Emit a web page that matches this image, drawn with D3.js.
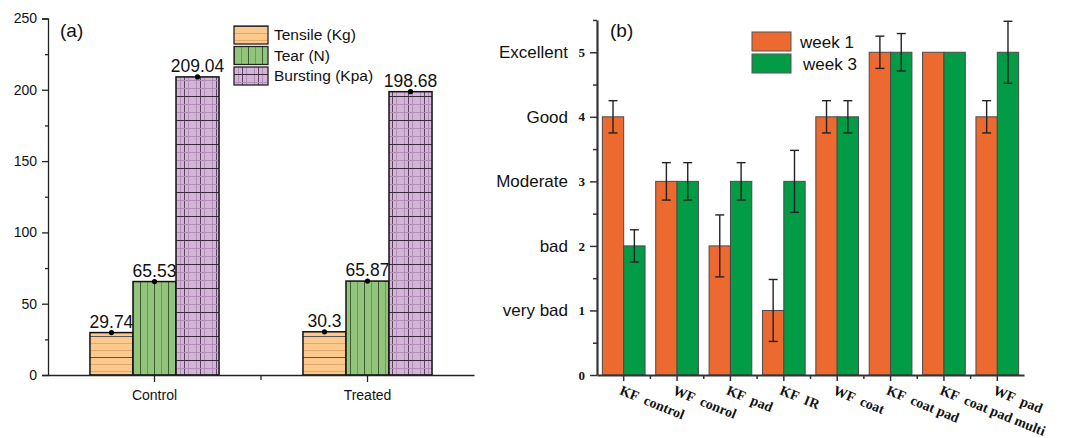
<!DOCTYPE html>
<html lang="en">
<head>
  <meta charset="UTF-8" />
  <title>Fabric tests and rating</title>
  <style>
    body { margin: 0; background: #fff; }
    svg { display: block; }
    text { font-family: "Liberation Sans", Arial, sans-serif; fill: #111; }
    .serif { font-family: "Liberation Serif", "Times New Roman", serif; font-weight: bold; }
  </style>
</head>
<body>
  <svg width="1073" height="438"></svg>
  <script src="https://d3js.org/d3.v7.min.js"></script>
  <script>
    // panel (a) data
    const groupsA = ['Control', 'Treated'];
    const seriesA = ['Tensile (Kg)', 'Tear (N)', 'Bursting (Kpa)'];
    const tensile = [29.74, 30.3];
    const tear = [65.53, 65.87];
    const bursting = [209.04, 198.68];
    const ticksA = [0, 50, 100, 150, 200, 250];

    // panel (b) data
    const groupsB = ['KF  control', 'WF  conrol', 'KF  pad', 'KF  IR', 'WF  coat', 'KF  coat pad', 'KF  coat pad multi', 'WF  pad'];
    const week1 = [4, 3, 2, 1, 4, 5, 5, 4];
    const week1Err = [0.25, 0.29, 0.48, 0.48, 0.25, 0.25, 0, 0.25];
    const week3 = [2, 3, 3, 3, 4, 5, 5, 5];
    const week3Err = [0.25, 0.29, 0.29, 0.48, 0.25, 0.29, 0, 0.48];
    const ratingNames = ['very bad', 'bad', 'Moderate', 'Good', 'Excellent'];
    const ratingVals = [1, 2, 3, 4, 5];

    const svg = d3.select('svg');
    svg.append('rect').attr('width', 1073).attr('height', 438).attr('fill', '#fff');
    const defs = svg.append('defs');

    // hatch patterns, like the Origin fills
    let p = defs.append('pattern').attr('id', 'pTensile').attr('patternUnits', 'userSpaceOnUse')
      .attr('width', 10).attr('height', 21);
    p.append('rect').attr('width', 10).attr('height', 21).attr('fill', '#fcc98d');
    p.append('line').attr('x1', 0).attr('x2', 10).attr('y1', 0.5).attr('y2', 0.5).attr('stroke', '#555').attr('stroke-width', 1);
    [7.5, 14.5].forEach(y => p.append('line').attr('x1', 0).attr('x2', 10).attr('y1', y).attr('y2', y)
      .attr('stroke', '#e3a86f').attr('stroke-width', 1));

    p = defs.append('pattern').attr('id', 'pTear').attr('patternUnits', 'userSpaceOnUse')
      .attr('width', 14).attr('height', 10);
    p.append('rect').attr('width', 14).attr('height', 10).attr('fill', '#93c47b');
    p.append('line').attr('x1', 0.5).attr('x2', 0.5).attr('y1', 0).attr('y2', 10).attr('stroke', '#3d5a32').attr('stroke-width', 1);
    p.append('line').attr('x1', 7.5).attr('x2', 7.5).attr('y1', 0).attr('y2', 10).attr('stroke', '#6a9e58').attr('stroke-width', 1);

    p = defs.append('pattern').attr('id', 'pBurst').attr('patternUnits', 'userSpaceOnUse')
      .attr('width', 16).attr('height', 24);
    p.append('rect').attr('width', 16).attr('height', 24).attr('fill', '#d6b3d9');
    [4.5, 12.5].forEach(x => p.append('line').attr('x1', x).attr('x2', x).attr('y1', 0).attr('y2', 24)
      .attr('stroke', '#b08fb4').attr('stroke-width', 1));
    p.append('line').attr('x1', 8.5).attr('x2', 8.5).attr('y1', 0).attr('y2', 24).attr('stroke', '#5a4460').attr('stroke-width', 1);
    [8.5, 16.5].forEach(y => p.append('line').attr('x1', 0).attr('x2', 16).attr('y1', y).attr('y2', y)
      .attr('stroke', '#b08fb4').attr('stroke-width', 1));
    p.append('line').attr('x1', 0).attr('x2', 16).attr('y1', 0.5).attr('y2', 0.5).attr('stroke', '#3a2a3e').attr('stroke-width', 1);

    const fillsA = ['url(#pTensile)', 'url(#pTear)', 'url(#pBurst)'];

    // ---------- panel (a) ----------
    const yA = d3.scaleLinear().domain([0, 250]).range([375, 18.5]);
    const xA = d3.scaleBand().domain(groupsA).range([48, 474]).paddingInner(0.394).paddingOuter(0.197);
    const xInA = d3.scaleBand().domain(seriesA).range([0, xA.bandwidth()]);

    const gA = svg.append('g');
    const rowsA = seriesA.map((s, i) => groupsA.map((g, j) => ({
      series: s, group: g, value: [tensile, tear, bursting][i][j], k: i
    }))).flat();

    gA.selectAll('rect.bar').data(rowsA).join('rect')
      .attr('class', 'bar')
      .attr('x', d => xA(d.group) + xInA(d.series))
      .attr('y', d => yA(d.value))
      .attr('width', xInA.bandwidth())
      .attr('height', d => yA(0) - yA(d.value))
      .attr('fill', d => fillsA[d.k])
      .attr('stroke', '#111').attr('stroke-width', 1.5);

    gA.selectAll('circle').data(rowsA).join('circle')
      .attr('cx', d => xA(d.group) + xInA(d.series) + xInA.bandwidth() / 2)
      .attr('cy', d => yA(d.value))
      .attr('r', 2.6).attr('fill', '#000');

    gA.selectAll('text.val').data(rowsA).join('text')
      .attr('class', 'val')
      .attr('x', d => xA(d.group) + xInA(d.series) + xInA.bandwidth() / 2)
      .attr('y', d => yA(d.value) - 5)
      .attr('text-anchor', 'middle')
      .attr('font-size', 17.5)
      .text(d => d.value);

    // axes (a)
    const axYA = gA.append('g').attr('transform', 'translate(48,0)')
      .call(d3.axisLeft(yA).tickValues(ticksA).tickSize(6).tickPadding(5).tickFormat(d3.format('d')));
    gA.append('g').attr('transform', 'translate(48,0)')
      .call(d3.axisLeft(yA).tickValues(d3.range(25, 250, 50)).tickSize(3).tickFormat(''))
      .call(g => g.select('.domain').remove());
    axYA.selectAll('text').attr('font-size', 14).attr('fill', '#111')
      .style('font-family', '"Liberation Sans", Arial, sans-serif');

    const axXA = gA.append('g').attr('transform', 'translate(0,375)')
      .call(d3.axisBottom(xA).tickSize(7).tickPadding(8).tickSizeOuter(0));
    axXA.selectAll('text').attr('font-size', 14).attr('fill', '#111')
      .style('font-family', '"Liberation Sans", Arial, sans-serif');
    gA.append('line').attr('x1', (xA('Control') + xA('Treated') + xA.bandwidth()) / 2)
      .attr('x2', (xA('Control') + xA('Treated') + xA.bandwidth()) / 2)
      .attr('y1', 375).attr('y2', 380).attr('stroke', '#222').attr('stroke-width', 1.3);
    gA.selectAll('.domain, .tick line').attr('stroke', '#222').attr('stroke-width', 1.3);

    gA.append('text').attr('x', 60).attr('y', 37).attr('font-size', 19).text('(a)');

    // legend (a)
    const legA = gA.append('g').attr('transform', 'translate(234,26)');
    seriesA.forEach((s, i) => {
      legA.append('rect').attr('x', 0).attr('y', i * 20.5).attr('width', 34).attr('height', 18)
        .attr('fill', fillsA[i]).attr('stroke', '#222').attr('stroke-width', 1.3);
      legA.append('text').attr('x', 40).attr('y', i * 20.5 + 9).attr('dy', '0.35em')
        .attr('font-size', 15.5).text(s);
    });

    // ---------- panel (b) ----------
    const c1 = '#ec6a2f', c3 = '#019c45';
    const yB = d3.scaleLinear().domain([0, 5.5]).range([375, 20]);
    const xB = d3.scaleBand().domain(groupsB).range([597, 1024]).paddingInner(0.2).paddingOuter(0.1);
    const xInB = d3.scaleBand().domain(['w1', 'w3']).range([0, xB.bandwidth()]);

    const gB = svg.append('g');
    const rowsB = groupsB.map((g, j) => [
      { group: g, s: 'w1', value: week1[j], err: week1Err[j], color: c1 },
      { group: g, s: 'w3', value: week3[j], err: week3Err[j], color: c3 }
    ]).flat();

    gB.selectAll('rect.bar').data(rowsB).join('rect')
      .attr('class', 'bar')
      .attr('x', d => xB(d.group) + xInB(d.s))
      .attr('y', d => yB(d.value))
      .attr('width', xInB.bandwidth())
      .attr('height', d => yB(0) - yB(d.value))
      .attr('fill', d => d.color)
      .attr('stroke', '#4a4a4a').attr('stroke-width', 1);

    // axes (b)
    const axYB = gB.append('g').attr('transform', 'translate(597,0)')
      .call(d3.axisLeft(yB).tickValues(d3.range(0, 6)).tickSize(7).tickPadding(5)
        .tickSizeOuter(0).tickFormat(d3.format('d')));
    axYB.selectAll('text').attr('class', 'serif').attr('font-size', 13).attr('fill', '#111');
    gB.append('g').attr('transform', 'translate(597,0)')
      .call(d3.axisLeft(yB).tickValues([0.5, 1.5, 2.5, 3.5, 4.5, 5.5]).tickSize(4).tickFormat(''))
      .call(g => g.select('.domain').remove());

    gB.append('g').attr('transform', 'translate(0,375)')
      .call(d3.axisBottom(xB).tickSize(6).tickSizeOuter(0).tickFormat(''));
    gB.append('g').attr('transform', 'translate(0,375)')
      .selectAll('line').data(groupsB.slice(1)).join('line')
      .attr('x1', d => xB(d) - xB.step() * xB.paddingInner() / 2)
      .attr('x2', d => xB(d) - xB.step() * xB.paddingInner() / 2)
      .attr('y1', 0).attr('y2', 4)
      .attr('stroke', '#333').attr('stroke-width', 1.5);
    gB.selectAll('.domain, .tick line').attr('stroke', '#333');
    gB.selectAll('.domain').attr('stroke-width', 2.2);
    gB.selectAll('.tick line').attr('stroke-width', 1.5);

    // error bars
    const errs = gB.selectAll('g.err').data(rowsB.filter(d => d.err > 0)).join('g')
      .attr('class', 'err')
      .attr('transform', d => `translate(${xB(d.group) + xInB(d.s) + xInB.bandwidth() / 2},0)`)
      .attr('stroke', '#222').attr('stroke-width', 1.4);
    errs.append('line').attr('y1', d => yB(d.value + d.err)).attr('y2', d => yB(d.value - d.err));
    errs.append('line').attr('x1', -4.5).attr('x2', 4.5).attr('y1', d => yB(d.value + d.err)).attr('y2', d => yB(d.value + d.err));
    errs.append('line').attr('x1', -4.5).attr('x2', 4.5).attr('y1', d => yB(d.value - d.err)).attr('y2', d => yB(d.value - d.err));

    gB.selectAll('text.xl').data(groupsB).join('text')
      .attr('class', 'xl serif')
      .attr('transform', d => `translate(${xB(d) + xB.bandwidth() / 2 - 5},394) rotate(22)`)
      .attr('font-size', 14)
      .style('white-space', 'pre')
      .text(d => d);

    gB.selectAll('text.rate').data(ratingVals).join('text')
      .attr('class', 'rate')
      .attr('x', 568).attr('y', d => yB(d)).attr('dy', '0.35em')
      .attr('text-anchor', 'end').attr('font-size', 17)
      .text((d, i) => ratingNames[i]);

    gB.append('text').attr('x', 610).attr('y', 37).attr('font-size', 19).text('(b)');

    // legend (b)
    const legB = gB.append('g').attr('transform', 'translate(752,32)');
    [['week 1', c1], ['week 3', c3]].forEach((d, i) => {
      legB.append('rect').attr('y', i * 22).attr('width', 39).attr('height', 19)
        .attr('fill', d[1]).attr('stroke', '#555').attr('stroke-width', 1);
      legB.append('text').attr('x', 48 + i * 3).attr('y', i * 22 + 10).attr('dy', '0.35em')
        .attr('font-size', 17).text(d[0]);
    });
  </script>
</body>
</html>
